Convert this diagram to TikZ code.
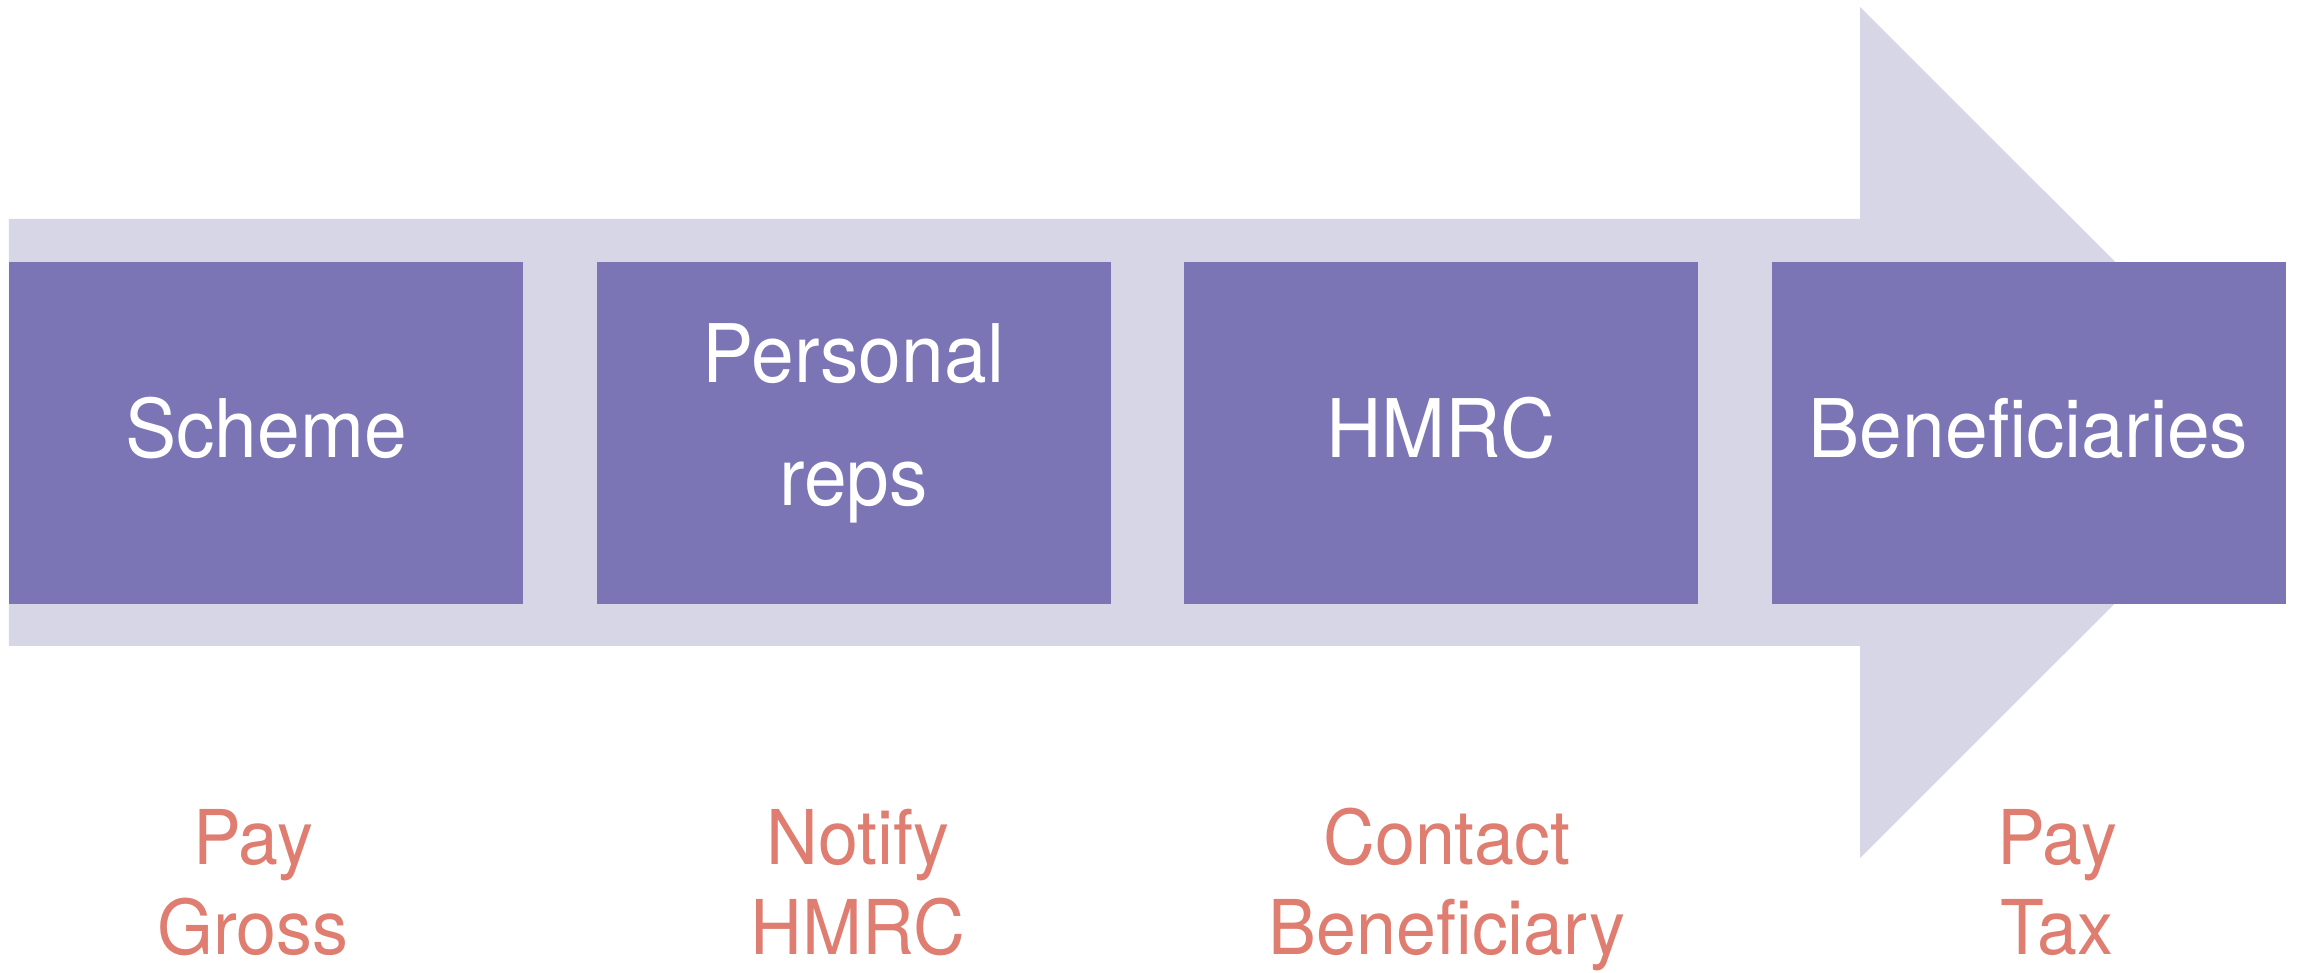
\documentclass[tikz,border=0pt]{standalone}
\usepackage{fontspec}
\setmainfont{TeX Gyre Heros}[FakeStretch=0.95]
\usetikzlibrary{positioning}

\definecolor{bandfill}{HTML}{D7D6E6}
\definecolor{stagefill}{HTML}{7B75B5}
\definecolor{actiontext}{HTML}{DE7D70}

\tikzset{
  stagebox/.style={fill=stagefill, text=white, inner sep=0pt, outer sep=0pt,
    minimum width=5.14cm, minimum height=3.42cm, align=center,
    font=\fontsize{23}{35}\selectfont, execute at begin node=\strut},
  actionlabel/.style={text=actiontext, inner sep=0pt, align=center,
    font=\fontsize{21.5}{25.6}\selectfont, execute at begin node=\strut}
}

\begin{document}
\begin{tikzpicture}
  \useasboundingbox (0,0) rectangle (22.97,9.73);
  % wide arrow behind the stages
  \fill[bandfill] (0.09,3.27) -- (0.09,7.54) -- (18.60,7.54) -- (18.60,9.66)
    -- (22.86,5.405) -- (18.60,1.15) -- (18.60,3.27) -- cycle;
  % stages
  \node[stagebox] (scheme) at (2.66,5.40) {Scheme};
  \node[stagebox, right=0.735cm of scheme] (reps) {Personal\\\strut reps};
  \node[stagebox, right=0.735cm of reps] (hmrc) {HMRC};
  \node[stagebox, right=0.735cm of hmrc] (benef) {Beneficiaries};
  % what happens at each stage
  \node[actionlabel] (paygross) at (2.53,0.78) {Pay\\\strut Gross};
  \node[actionlabel] (notify) at (8.58,0.78) {Notify\\\strut HMRC};
  \node[actionlabel] (contact) at (14.47,0.78) {Contact\\\strut Beneficiary};
  \node[actionlabel] (paytax) at (20.57,0.78) {Pay\\\strut Tax};
\end{tikzpicture}
\end{document}
